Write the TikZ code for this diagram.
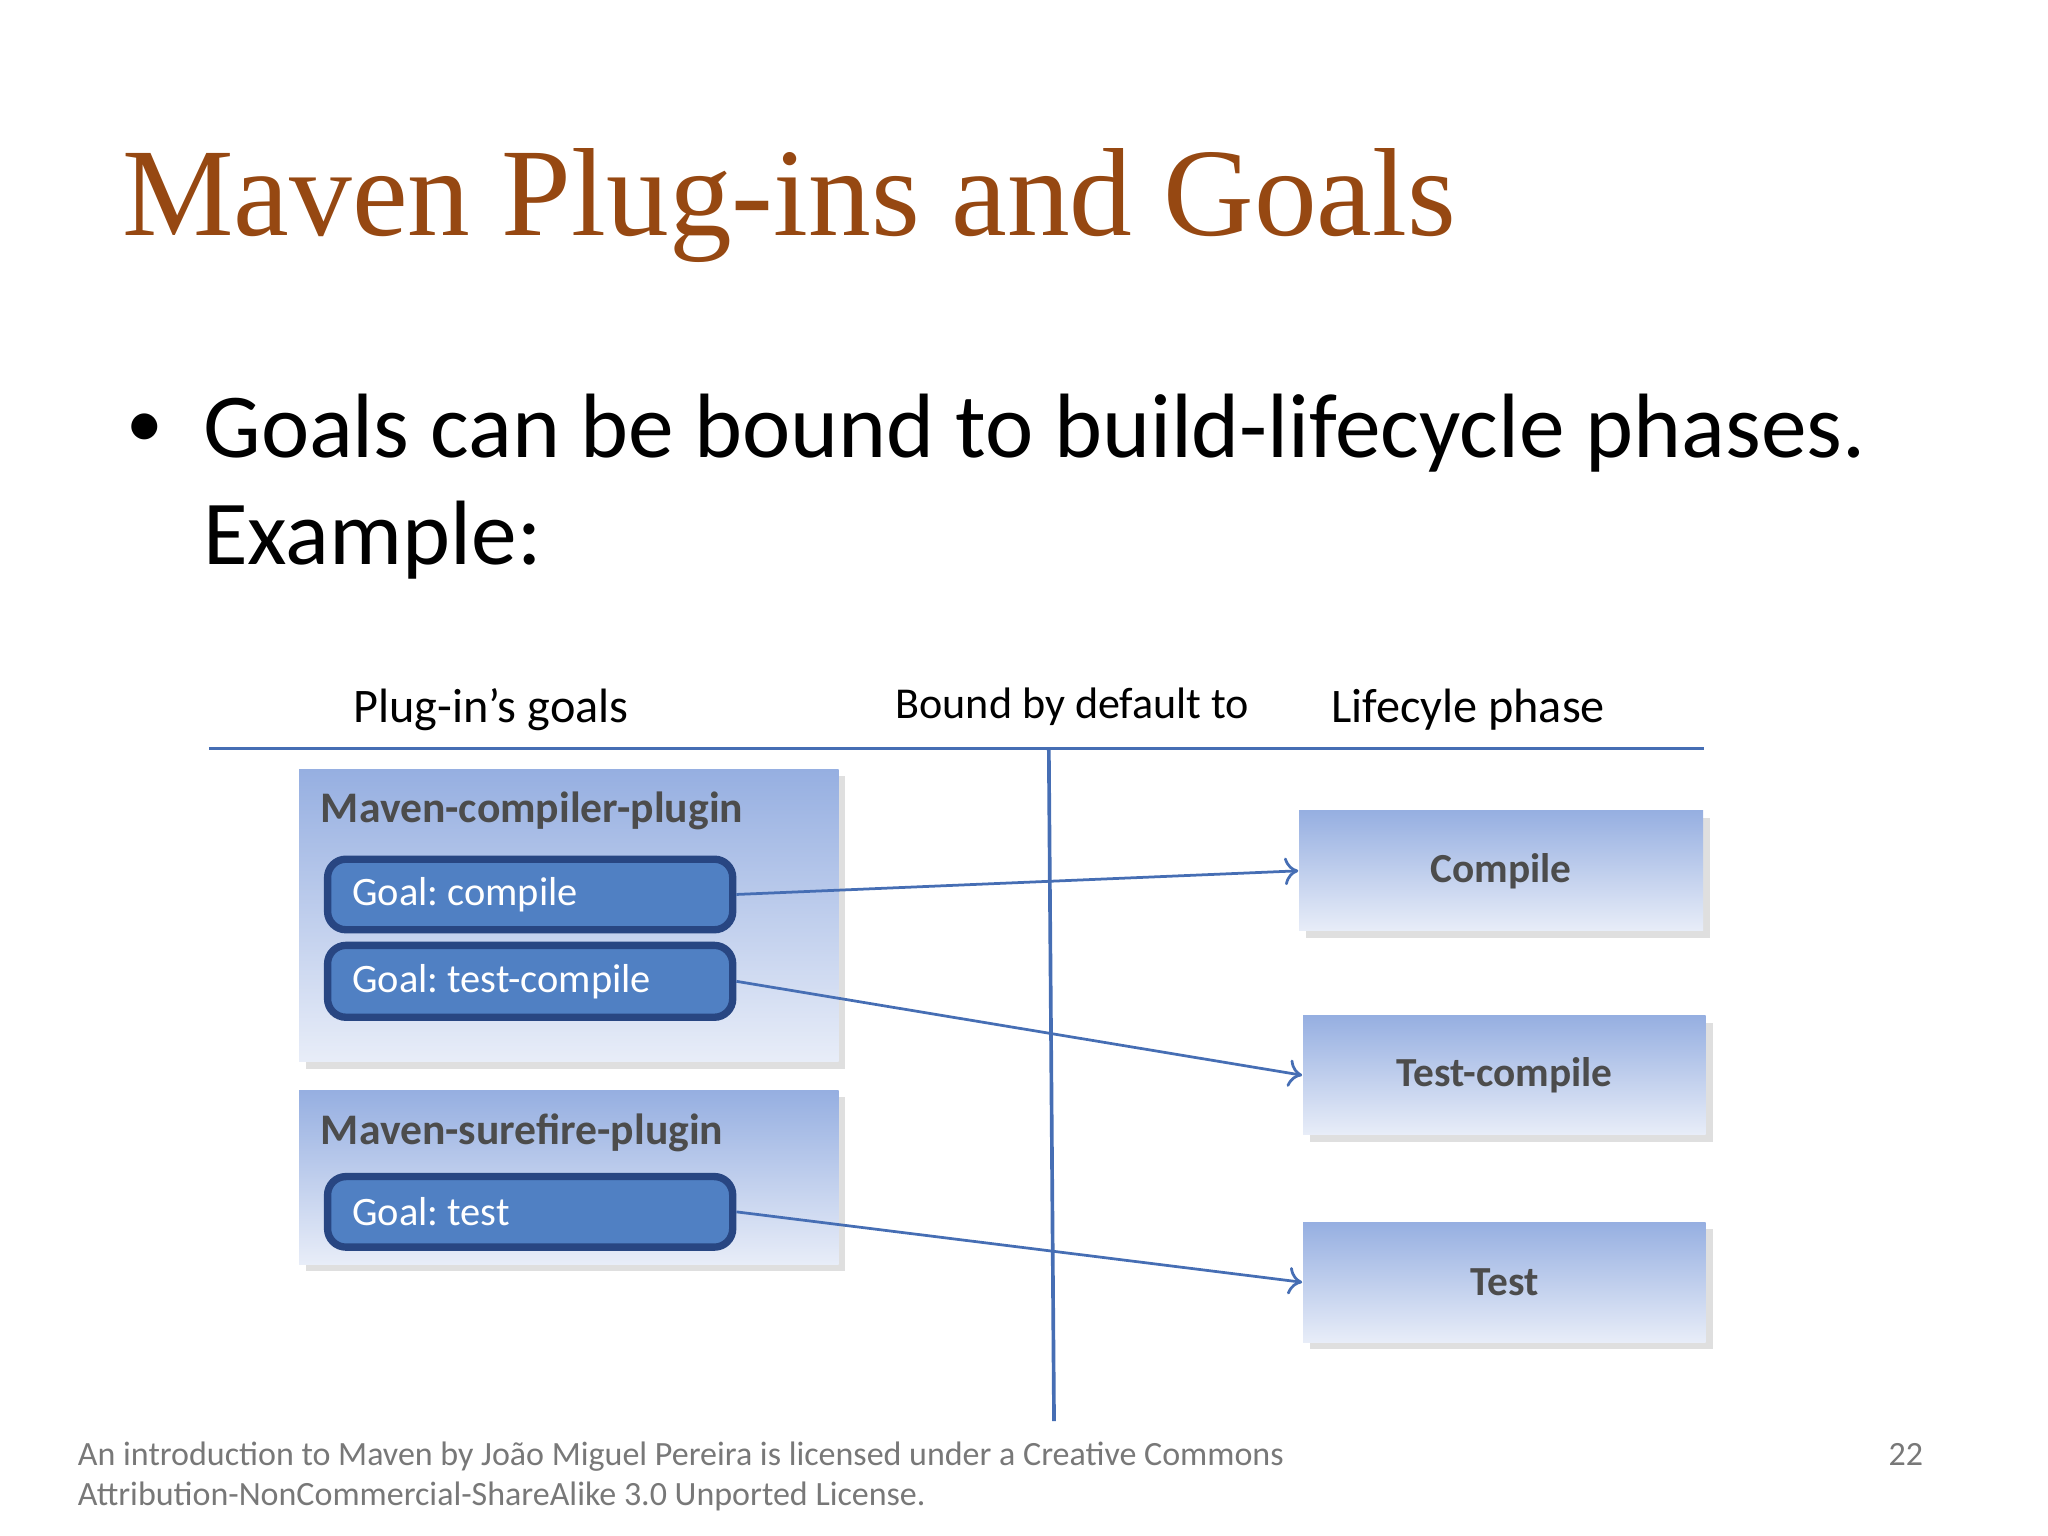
\documentclass[tikz,border=0pt]{standalone}
\usepackage{fontspec}
\setmainfont{Carlito}
\newfontfamily\titlefont{Liberation Serif}
\usetikzlibrary{shadows,arrows.meta}
\definecolor{ttl}{RGB}{150,72,18}
\definecolor{ln}{RGB}{70,110,180}
\definecolor{gfill}{RGB}{80,128,195}
\definecolor{gdraw}{RGB}{40,70,130}
\definecolor{btop}{RGB}{150,175,225}
\definecolor{bbot}{RGB}{232,237,248}
\definecolor{ftr}{RGB}{120,120,120}
\newcommand{\gl}[1]{\hspace*{0.09cm}Goal:\hspace{0.22em}#1}
\tikzset{
 x=0.01cm,y=-0.01cm,
 pbox/.style={draw=none,top color=btop,bottom color=bbot,drop shadow={shadow xshift=1.5pt,shadow yshift=-1.5pt,opacity=0.25},anchor=north west,inner sep=0pt},
 goal/.style={draw=gdraw,line width=1.6pt,rounded corners=4pt,fill=gfill,text=white,anchor=north west,font=\fontsize{8.8}{10}\selectfont,align=left,inner sep=0pt,minimum width=3.1cm,text width=2.9cm},
 phase/.style={pbox,font=\fontsize{9}{10}\selectfont\bfseries,text=black!70},
 conn/.style={draw=ln,line width=0.6pt,-{To[length=3pt,width=6pt]}},
 hdr/.style={font=\fontsize{10.5}{12}\selectfont,anchor=base},
 ptitle/.style={anchor=base west,font=\fontsize{9.5}{11}\selectfont\bfseries,text=black!70,inner sep=0pt}
}
\begin{document}
\begin{tikzpicture}
\useasboundingbox (0,0) rectangle (1568,1176);
\node[anchor=base west,text=ttl,font=\titlefont\fontsize{27.3}{30}\selectfont,inner sep=0] (title) at (93,180) {Maven Plug-ins and Goals};
\node[anchor=base west,font=\fontsize{16}{24}\selectfont,inner sep=0] (bul) at (96,343) {•};
\node[anchor=base west,font=\fontsize{19.9}{24}\selectfont,inner sep=0] (b1) at (155,350) {Goals can be bound to build-lifecycle phases.};
\node[anchor=base west,font=\fontsize{19.9}{24}\selectfont,inner sep=0] (b2) at (155,432) {Example:};
\node[hdr] (h1) at (376,553) {Plug-in’s goals};
\node[hdr,font=\fontsize{9.6}{11}\selectfont] (h2) at (821,550) {Bound by default to};
\node[hdr] (h3) at (1124,553) {Lifecyle phase};
\coordinate (l1) at (160,573); \coordinate (l2) at (1305,573);
\draw[ln,line width=0.8pt] (l1) -- (l2);
\coordinate (v1) at (803,573); \coordinate (v2) at (807,1088);
\draw[ln,line width=0.8pt] (v1) -- (v2);
% plugin boxes
\path[pbox] (229,589) rectangle (642,813);
\node[ptitle] (p1t) at (245,630) {Maven-compiler-plugin};
\path[pbox] (229,835) rectangle (642,968);
\node[ptitle] (p2t) at (245,876) {Maven-surefire-plugin};
% goals
\node[goal,minimum height=0.54cm] (g1) at (248,655) {\gl{compile}};
\node[goal,minimum height=0.55cm] (g2) at (248,721) {\gl{test-compile}};
\node[goal,minimum height=0.54cm] (g3) at (248,898) {\gl{test}};
% phases
\node[phase,minimum width=3.09cm,minimum height=0.92cm] (c1) at (994,620) {Compile};
\node[phase,minimum width=3.08cm,minimum height=0.91cm] (c2) at (997,777) {Test-compile};
\node[phase,minimum width=3.08cm,minimum height=0.92cm] (c3) at (997,935) {Test};
\draw[conn] (g1.east) -- (c1.west);
\draw[conn] (g2.east) -- (c2.west);
\draw[conn] (g3.east) -- (c3.west);
\node[anchor=base west,text=ftr,font=\fontsize{7.4}{9}\selectfont,inner sep=0] (f1) at (59,1122) {An introduction to Maven by João Miguel Pereira is licensed under a Creative Commons};
\node[anchor=base west,text=ftr,font=\fontsize{7.4}{9}\selectfont,inner sep=0] (f2) at (59,1153) {Attribution-NonCommercial-ShareAlike 3.0 Unported License.};
\node[anchor=base east,text=ftr,font=\fontsize{7.4}{9}\selectfont,inner sep=0] (pg) at (1473,1122) {22};
\end{tikzpicture}
\end{document}
